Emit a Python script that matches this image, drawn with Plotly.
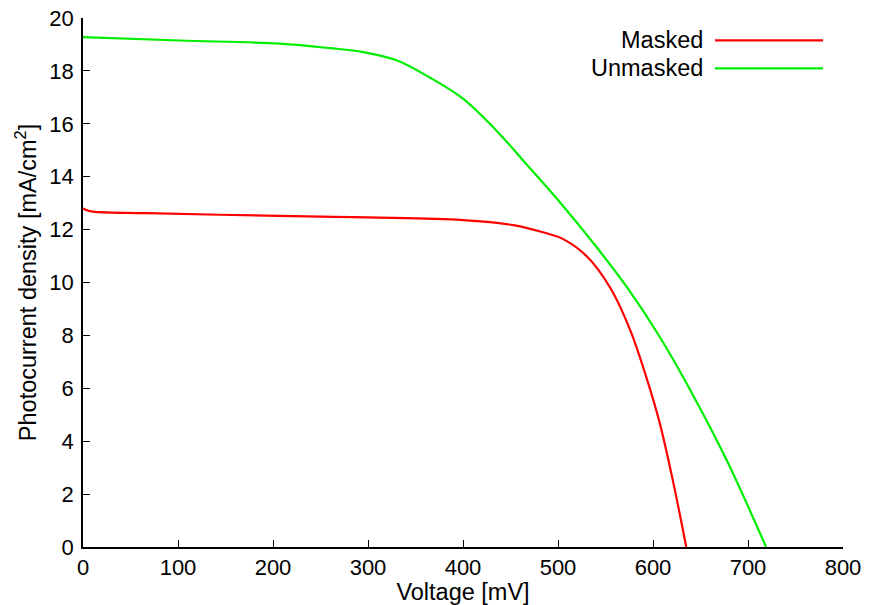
import plotly.graph_objects as go

# Data
masked_v = [0, 7, 67, 207, 300, 400, 453, 488, 505, 530, 555, 576, 594, 607, 621, 635]
masked_j = [12.80, 12.70, 12.62, 12.52, 12.46, 12.36, 12.17, 11.86, 11.65, 11.00, 9.80, 8.20, 6.30, 4.70, 2.50, 0.0]

unmasked_v = [0, 102, 207, 260, 295, 330, 365, 400, 435, 471, 504, 537, 572, 607, 642, 678, 719]
unmasked_j = [19.28, 19.15, 19.03, 18.86, 18.71, 18.40, 17.75, 16.95, 15.75, 14.30, 12.95, 11.50, 9.85, 7.95, 5.75, 3.25, 0.0]

series_names = ["Masked", "Unmasked"]
series_colors = ["#ff0000", "#00ee00"]

FONT = "Liberation Sans, Arial, sans-serif"
TICK_FS = 22
TITLE_FS = 23.5

fig = go.Figure()
for name, vx, jy, col in [(series_names[0], masked_v, masked_j, series_colors[0]),
                          (series_names[1], unmasked_v, unmasked_j, series_colors[1])]:
    fig.add_trace(go.Scatter(x=vx, y=jy, mode="lines", name=name,
                             line=dict(color=col, width=2.2, shape="spline", smoothing=1.0),
                             showlegend=False))

W, H = 870, 605
L, R, T, B = 83, 27, 17.5, 57.5
pw, ph = W - L - R, H - T - B

def px_to_paper(px, py):
    return (px - L) / pw, (H - B - py) / ph

# Manual legend (text on left, line sample on right)
for i, (name, col) in enumerate(zip(series_names, series_colors)):
    py = 40 + i * 28
    tx, ty = px_to_paper(705, py)
    x0, _ = px_to_paper(715, py)
    x1, _ = px_to_paper(823, py)
    fig.add_annotation(x=tx, y=ty, xref="paper", yref="paper", text=name,
                       showarrow=False, xanchor="right", yanchor="middle",
                       font=dict(family=FONT, size=TITLE_FS, color="black"))
    fig.add_shape(type="line", xref="paper", yref="paper", x0=x0, x1=x1, y0=ty, y1=ty,
                  line=dict(color=col, width=2.2))

axis_common = dict(showgrid=False, zeroline=False, showline=True, linecolor="black",
                   linewidth=1.5, ticks="inside", ticklen=7, tickwidth=1, tickcolor="black",
                   tickfont=dict(family=FONT, size=TICK_FS, color="black"), mirror=False,
                   automargin=False)

fig.update_xaxes(range=[0, 800], dtick=100, tick0=0,
                 title=dict(text="Voltage [mV]", font=dict(family=FONT, size=TITLE_FS, color="black"), standoff=2),
                 **axis_common)
fig.update_yaxes(range=[0, 20], dtick=2, tick0=0, ticklabelstandoff=3,
                 title=dict(text="Photocurrent density [mA/cm<sup>2</sup>]",
                            font=dict(family=FONT, size=TITLE_FS, color="black"), standoff=6),
                 **axis_common)

fig.update_layout(width=W, height=H, margin=dict(l=L, r=R, t=T, b=B),
                  plot_bgcolor="white", paper_bgcolor="white",
                  font=dict(family=FONT, size=TICK_FS, color="black"))

fig.write_html("out.html")
